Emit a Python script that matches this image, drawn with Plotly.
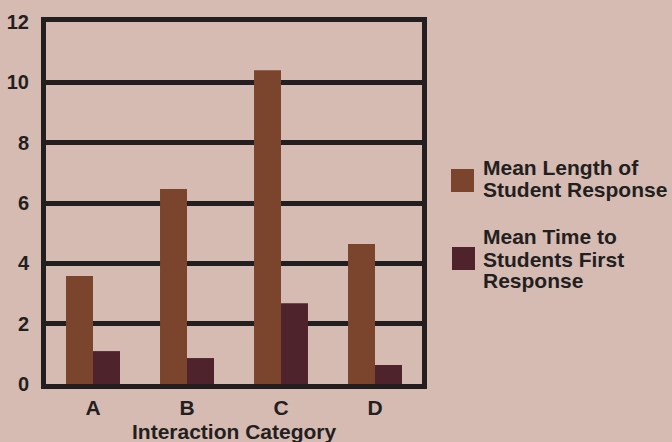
import plotly.graph_objects as go

categories = ["A", "B", "C", "D"]
mean_length = [3.58, 6.46, 10.4, 4.64]
mean_time = [1.09, 0.86, 2.68, 0.63]
y_ticks = [0, 2, 4, 6, 8, 10, 12]

series_names = ["Mean Length of<br>Student Response", "Mean Time to<br>Students First<br>Response"]
legend_lines = [["Mean Length of", "Student Response"], ["Mean Time to", "Students First", "Response"]]
x_title = "Interaction Category"

BG = "#D6BBB2"
INK = "#231F20"
BROWN = "#7B442D"
MAROON = "#4F232B"

W, H = 672, 442
L, R, T, B = 46, 250, 22, 58

fig = go.Figure()
fig.add_trace(go.Bar(x=categories, y=mean_length, name=series_names[0],
                     marker=dict(color=BROWN, line=dict(width=0))))
fig.add_trace(go.Bar(x=categories, y=mean_time, name=series_names[1],
                     marker=dict(color=MAROON, line=dict(width=0))))

def bold(size):
    return dict(family="Liberation Sans, Arial, sans-serif", size=size, color=INK, weight="bold")

fig.update_layout(
    width=W, height=H,
    margin=dict(l=L, r=R, t=T, b=B),
    paper_bgcolor=BG, plot_bgcolor=BG,
    barmode="group", bargap=0.426, bargroupgap=0,
    showlegend=False,
    font=bold(20),
    xaxis=dict(
        showline=True, linewidth=5, linecolor=INK, mirror=True,
        showgrid=False, ticks="", tickfont=bold(21), ticklabelstandoff=1,
        automargin=False,
    ),
    yaxis=dict(
        range=[0, 12], tickvals=y_ticks, ticktext=[str(v) for v in y_ticks],
        showline=True, linewidth=5, linecolor=INK, mirror=True,
        showgrid=True, gridcolor=INK, gridwidth=5, automargin=False,
        zeroline=False, ticks="", tickfont=bold(20), ticklabelstandoff=8,
    ),
)

pw, ph = W - L - R, H - T - B

# Axis title placed just under the category labels
fig.add_annotation(text=x_title, xref="paper", yref="paper",
                   x=0.5, y=(H - B - 431.5) / ph, xanchor="center", yanchor="middle",
                   showarrow=False, font=bold(21), borderpad=0)

# Custom legend: swatch squares with line-by-line labels
swatches = [(451, 169), (452, 247)]
line_tops = [[160, 182], [229, 252, 273]]
colors = [BROWN, MAROON]
for (sx, sy), c in zip(swatches, colors):
    fig.add_shape(type="rect", xref="paper", yref="paper",
                  x0=(sx - L) / pw, x1=(sx + 23 - L) / pw,
                  y0=(H - B - sy) / ph, y1=(H - B - sy - 23) / ph,
                  fillcolor=c, line=dict(width=0))
for lines, tops in zip(legend_lines, line_tops):
    for text, top in zip(lines, tops):
        fig.add_annotation(text=text, xref="paper", yref="paper",
                           x=(482 - L) / pw, y=(H - B - (top - 5)) / ph,
                           xanchor="left", yanchor="top", showarrow=False,
                           font=bold(21), borderpad=0)

fig.write_html("out.html")
